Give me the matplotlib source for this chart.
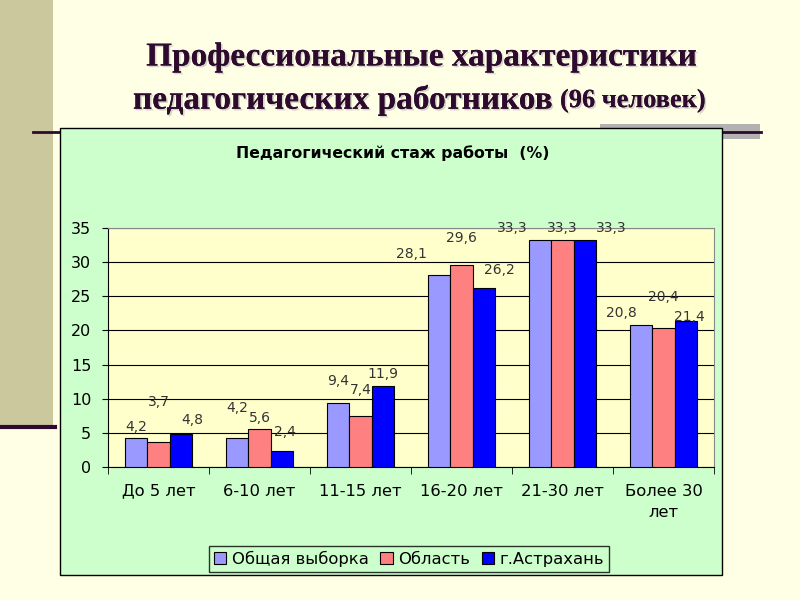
import numpy as np
import matplotlib.pyplot as plt
from matplotlib.patches import Rectangle
from matplotlib.lines import Line2D
import matplotlib.patheffects as pe

categories = ['До 5 лет', '6-10 лет', '11-15 лет', '16-20 лет', '21-30 лет', 'Более 30\nлет']
series_names = ['Общая выборка', 'Область', 'г.Астрахань']
obshaya = [4.2, 4.2, 9.4, 28.1, 33.3, 20.8]
oblast = [3.7, 5.6, 7.4, 29.6, 33.3, 20.4]
astrakhan = [4.8, 2.4, 11.9, 26.2, 33.3, 21.4]
y_ticks = [0, 5, 10, 15, 20, 25, 30, 35]

colors = ['#9999FF', '#FF8080', '#0000FF']
# label offsets in pixels (x, y), per series, per category - mimics Excel placement
label_dx = [[0, 0, 0, -28, -28, -20],
            [0, 0, 0, 0, 0, 0],
            [12, 3, 0, 16, 27, 4]]
label_dy = [[11, 30, 22, 21, 12, 12],
            [40, 11, 26, 27, 12, 31],
            [14, 19, 12, 18, 12, 4]]

BG = '#FFFFE6'
TITLE_C = '#2E0A2E'

fig = plt.figure(figsize=(8, 6), dpi=100, facecolor=BG)
W, H = 800, 600


def fx(px):
    return px / W


def fy(py):
    return 1 - py / H


# slide decorations
fig.patches.append(Rectangle((0, fy(425)), fx(53), 425 / H, transform=fig.transFigure,
                             facecolor='#CCC89E', edgecolor='none', zorder=0))
fig.lines.append(Line2D([0, fx(55)], [fy(427), fy(427)], transform=fig.transFigure,
                        color='#2E0A2E', lw=3, zorder=1))
fig.patches.append(Rectangle((fx(600), fy(139)), fx(160), 15 / H, transform=fig.transFigure,
                             facecolor='#B2B2B2', edgecolor='none', zorder=0))
fig.lines.append(Line2D([fx(33), fx(60)], [fy(132), fy(132)], transform=fig.transFigure,
                        color='#2E0A2E', lw=2, zorder=1))
fig.lines.append(Line2D([fx(722), fx(761)], [fy(132), fy(132)], transform=fig.transFigure,
                        color='#2E0A2E', lw=2, zorder=1))

# chart box
fig.patches.append(Rectangle((fx(60), fy(575)), fx(662), 447 / H, transform=fig.transFigure,
                             facecolor='#CCFFCC', edgecolor='black', lw=1, zorder=2))

# slide title
shadow = [pe.withSimplePatchShadow(offset=(1.2, -1.2), shadow_rgbFace='#AAAAAA', alpha=0.5), pe.Normal()]
fig.text(fx(422), fy(57), 'Профессиональные характеристики', ha='center', va='center',
         fontsize=24, fontweight='bold', family='Liberation Serif', color=TITLE_C,
         path_effects=shadow)
fig.text(fx(553), fy(100), 'педагогических работников', ha='right', va='center',
         fontsize=24, fontweight='bold', family='Liberation Serif', color=TITLE_C,
         path_effects=shadow)
fig.text(fx(560), fy(101), '(96 человек)', ha='left', va='center',
         fontsize=19, fontweight='bold', family='Liberation Serif', color=TITLE_C,
         path_effects=shadow)

# chart title
fig.text(fx(393), fy(153), 'Педагогический стаж работы  (%)', ha='center', va='center',
         fontsize=11.3, fontweight='bold', family='DejaVu Sans', color='black', zorder=5)

ax = fig.add_axes([fx(108), fy(467), fx(606), 239 / H], zorder=3)
ax.set_facecolor('#FFFFCC')

x = np.arange(len(categories))
bw = 0.22
all_series = [obshaya, oblast, astrakhan]
for i, (vals, name) in enumerate(zip(all_series, series_names)):
    pos = x + (i - 1) * bw
    ax.bar(pos, vals, width=bw, color=colors[i], edgecolor='black', lw=0.8,
           label=name, zorder=3)
    for j, v in enumerate(vals):
        ax.annotate(f'{v:.1f}'.replace('.', ','), (pos[j], v),
                    xytext=(label_dx[i][j], label_dy[i][j]), textcoords='offset pixels',
                    ha='center', va='center', fontsize=10, color='#333333', zorder=4)

ax.set_xlim(-0.5, len(categories) - 0.5)
ax.set_ylim(0, 35)
ax.set_yticks(y_ticks)
ax.yaxis.grid(True, color='black', lw=0.8, zorder=1)
ax.set_axisbelow(True)
ax.tick_params(axis='y', labelsize=11.5, length=4, direction='out', pad=8)
ax.set_xticks(x)
ax.set_xticklabels(categories, fontsize=11.8, linespacing=1.55)
ax.tick_params(axis='x', length=0, pad=12)
ax.set_xticks(np.arange(-0.5, len(categories)), minor=True)
ax.tick_params(axis='x', which='minor', length=5, direction='out')

for s in ['top', 'right']:
    ax.spines[s].set_color('#888888')
ax.spines['left'].set_color('black')
ax.spines['bottom'].set_color('black')

leg = fig.legend(loc='center', bbox_to_anchor=(fx(409), fy(559)), ncol=3, fontsize=11.8,
                 frameon=True, fancybox=False, edgecolor='black', facecolor='#CCFFCC',
                 handlelength=0.75, handleheight=0.75, handletextpad=0.35, columnspacing=0.7,
                 borderpad=0.3)
leg.get_frame().set_linewidth(1)
leg.set_zorder(6)

fig.savefig('out.png', dpi=100, facecolor=BG)
